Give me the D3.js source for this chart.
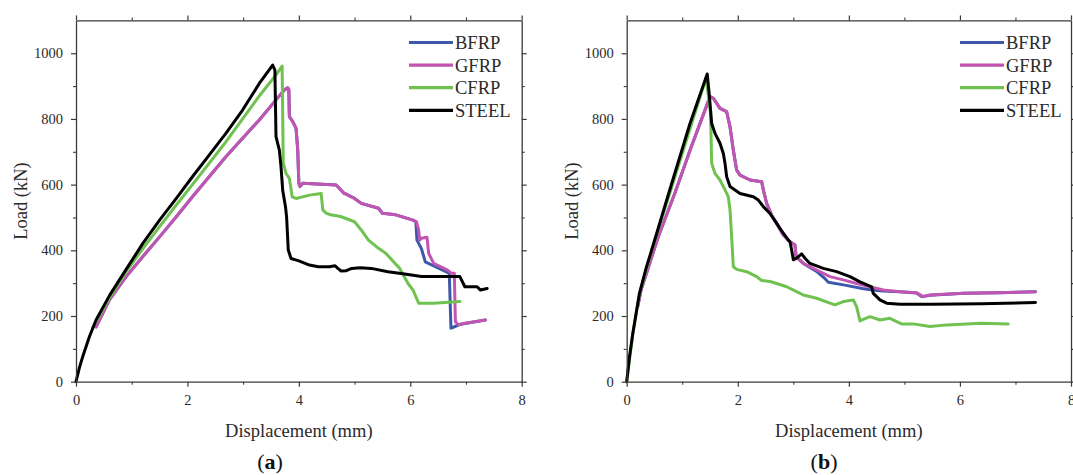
<!DOCTYPE html>
<html>
<head>
<meta charset="utf-8">
<script src="https://cdn.jsdelivr.net/npm/d3@7"></script>
<style>
  html, body { margin: 0; padding: 0; background: #fff; }
  svg { display: block; }
  text { font-family: "Liberation Serif", "Times New Roman", serif; }
</style>
</head>
<body>
<svg id="chart" width="1073" height="475"></svg>
<script>
// ---------- DATA ----------
const seriesNames = ["BFRP", "GFRP", "CFRP", "STEEL"];
const seriesColors = ["#3d57aa", "#c254b2", "#6fc24f", "#000000"];
const xTickValues = [0, 2, 4, 6, 8];
const xMinorTicks = [1, 3, 5, 7];
const yTickValues = [0, 200, 400, 600, 800, 1000];
const yMinorTicks = [100, 300, 500, 700, 900];
const panelCaptions = ["a", "b"];

// Panel (a): [displacement mm, load kN]
const a_GFRP = [[0.36,167],[0.6,249],[0.9,320],[1.2,381],[1.5,441],[1.8,502],[2.09,563],[2.39,624],[2.69,685],[2.99,741],[3.29,797],[3.59,858],[3.74,888],[3.8,895],[3.82,890],[3.83,807],[3.89,792],[3.95,771],[3.98,705],[4.0,604],[4.02,594],[4.07,604],[4.67,599],[4.81,574],[5.0,558],[5.12,543],[5.43,528],[5.5,513],[5.74,508],[6.05,492],[6.11,487],[6.15,462],[6.17,431],[6.2,437],[6.3,440],[6.33,391],[6.42,360],[6.67,340],[6.74,330],[6.79,330],[6.81,183],[6.86,173],[6.98,178],[7.35,188]];
const a_BFRP = [[0.36,167],[0.6,249],[0.9,320],[1.2,381],[1.5,441],[1.8,502],[2.09,563],[2.39,624],[2.69,685],[2.99,741],[3.29,797],[3.59,858],[3.74,888],[3.8,895],[3.82,890],[3.83,807],[3.89,792],[3.95,771],[3.98,705],[4.0,604],[4.02,594],[4.07,604],[4.67,599],[4.81,574],[5.0,558],[5.12,543],[5.43,528],[5.5,513],[5.74,508],[6.05,492],[6.1,487],[6.12,431],[6.2,405],[6.27,365],[6.45,350],[6.64,335],[6.7,330],[6.73,163],[6.76,165],[6.9,175],[7.35,188]];
const a_CFRP = [[0.3,165],[0.6,255],[0.9,335],[1.2,405],[1.5,472],[1.8,538],[2.09,600],[2.39,665],[2.69,730],[2.99,800],[3.29,870],[3.59,934],[3.7,961],[3.72,665],[3.77,634],[3.83,619],[3.88,563],[3.95,558],[4.19,568],[4.4,573],[4.43,523],[4.49,513],[4.57,508],[4.75,503],[5.0,487],[5.12,462],[5.25,431],[5.43,406],[5.56,391],[5.81,345],[5.96,299],[6.05,279],[6.15,239],[6.42,239],[6.89,244]];
const a_STEEL = [[0,0],[0.06,42],[0.12,76],[0.24,137],[0.36,188],[0.6,262],[0.9,342],[1.2,421],[1.5,492],[1.8,558],[2.09,624],[2.39,690],[2.69,756],[2.99,827],[3.29,908],[3.53,964],[3.57,949],[3.59,746],[3.65,705],[3.68,654],[3.71,583],[3.76,533],[3.78,502],[3.81,401],[3.86,375],[4.0,368],[4.19,355],[4.35,350],[4.55,350],[4.65,353],[4.7,345],[4.76,337],[4.85,338],[4.95,345],[5.1,347],[5.3,345],[5.6,335],[5.9,328],[6.2,320],[6.5,320],[6.89,320],[6.98,289],[7.2,289],[7.26,279],[7.38,284]];

// Panel (b)
const b_GFRP = [[0.2,230],[0.26,280],[0.57,442],[0.87,575],[1.14,705],[1.5,868],[1.56,863],[1.68,832],[1.8,822],[1.86,776],[1.92,705],[1.98,644],[2.04,629],[2.22,614],[2.43,609],[2.46,584],[2.52,543],[2.61,507],[2.7,482],[2.82,447],[2.94,426],[3.03,416],[3.05,381],[3.18,360],[3.42,340],[3.66,320],[3.9,310],[4.14,299],[4.38,289],[4.62,279],[4.92,274],[5.22,271],[5.34,259],[5.46,264],[6.07,269],[6.69,271],[7.36,274]];
const b_BFRP = [[0.2,230],[0.26,280],[0.57,442],[0.87,575],[1.14,705],[1.5,868],[1.56,863],[1.68,832],[1.8,822],[1.86,776],[1.92,705],[1.98,644],[2.04,629],[2.22,614],[2.43,609],[2.46,584],[2.52,543],[2.61,507],[2.7,482],[2.82,447],[2.94,426],[3.03,416],[3.05,381],[3.18,360],[3.42,336],[3.58,312],[3.63,303],[3.93,294],[4.24,284],[4.42,279],[4.62,276],[4.92,274],[5.22,270],[5.31,259],[5.46,263],[6.07,269],[6.69,271],[7.36,274]];
const b_CFRP = [[0,0],[0.11,147],[0.23,269],[0.45,400],[0.75,560],[1.14,770],[1.43,925],[1.51,817],[1.53,665],[1.59,634],[1.68,614],[1.77,584],[1.83,563],[1.86,523],[1.89,441],[1.92,350],[1.98,342],[2.16,335],[2.34,320],[2.43,308],[2.58,305],[2.7,299],[2.88,289],[3.06,274],[3.18,264],[3.42,254],[3.66,239],[3.75,234],[3.9,244],[4.08,249],[4.14,228],[4.2,185],[4.26,190],[4.38,198],[4.56,188],[4.74,193],[4.86,183],[4.95,176],[5.16,176],[5.46,168],[5.77,173],[6.38,178],[6.87,176]];
const b_STEEL = [[0,0],[0.05,75],[0.11,147],[0.23,269],[0.34,340],[0.45,401],[0.75,570],[1.14,786],[1.45,937],[1.49,868],[1.53,786],[1.59,756],[1.68,726],[1.74,695],[1.77,665],[1.8,624],[1.86,594],[2.04,573],[2.28,563],[2.37,553],[2.46,533],[2.58,512],[2.7,482],[2.82,452],[2.91,431],[2.94,426],[2.97,401],[3.0,371],[3.06,376],[3.15,389],[3.21,376],[3.3,360],[3.54,345],[3.78,335],[4.02,320],[4.2,304],[4.41,289],[4.44,269],[4.56,249],[4.68,239],[4.92,236],[5.5,236],[6.38,237],[7.36,241]];

const panelSeries = [
  [a_BFRP, a_GFRP, a_CFRP, a_STEEL],
  [b_BFRP, b_GFRP, b_CFRP, b_STEEL]
];

// ---------- LAYOUT ----------
const panels = [
  { x0: 76, x1: 521.7, caption: 270, legendX: 409 },
  { x0: 626.7, x1: 1071, caption: 824, legendX: 960 }
];
const yTop = 20.4, yBottom = 381.7;
const axisColor = "#3a3a3a";
const textColor = "#2a2a2a";

const svg = d3.select("#chart");

panels.forEach((p, pi) => {
  const x = d3.scaleLinear().domain([0, 8]).range([p.x0, p.x1]);
  const y = d3.scaleLinear().domain([0, 1100]).range([yBottom, yTop]);
  const g = svg.append("g");

  // curves
  const line = d3.line().x(d => x(d[0])).y(d => y(d[1])).curve(d3.curveLinear);
  panelSeries[pi].forEach((data, si) => {
    g.append("path")
      .datum(data)
      .attr("fill", "none")
      .attr("stroke", seriesColors[si])
      .attr("stroke-width", 3)
      .attr("stroke-linejoin", "round")
      .attr("stroke-linecap", "round")
      .attr("d", line);
  });

  function styleAxis(sel) {
    sel.select(".domain").attr("stroke", axisColor).attr("stroke-width", 1.3);
    sel.selectAll(".tick line").attr("stroke", axisColor).attr("stroke-width", 1.2);
    sel.selectAll("text")
      .attr("fill", textColor)
      .style("font-family", '"Liberation Serif", "Times New Roman", serif')
      .style("font-size", "14.5px");
  }
  function minor(s) {
    s.select(".domain").remove();
    s.selectAll(".tick line").attr("stroke", axisColor).attr("stroke-width", 1.1);
  }

  // bottom axis
  const bottom = g.append("g").attr("transform", `translate(0,${yBottom})`)
    .call(d3.axisBottom(x).tickValues(xTickValues).tickSize(5).tickSizeOuter(0).tickPadding(8).tickFormat(d3.format("d")));
  styleAxis(bottom);
  g.append("g").attr("transform", `translate(0,${yBottom})`)
    .call(d3.axisBottom(x).tickValues(xMinorTicks).tickSize(3).tickFormat("")).call(minor);

  // top axis
  const top = g.append("g").attr("transform", `translate(0,${yTop})`)
    .call(d3.axisTop(x).tickValues(xTickValues).tickSize(5).tickSizeOuter(0).tickFormat(""));
  styleAxis(top);
  g.append("g").attr("transform", `translate(0,${yTop})`)
    .call(d3.axisTop(x).tickValues(xMinorTicks).tickSize(3).tickFormat("")).call(minor);

  // left axis
  const left = g.append("g").attr("transform", `translate(${p.x0},0)`)
    .call(d3.axisLeft(y).tickValues(yTickValues).tickSize(5).tickSizeOuter(0).tickPadding(8).tickFormat(d3.format("d")));
  styleAxis(left);
  g.append("g").attr("transform", `translate(${p.x0},0)`)
    .call(d3.axisLeft(y).tickValues(yMinorTicks).tickSize(3).tickFormat("")).call(minor);

  // right axis
  const right = g.append("g").attr("transform", `translate(${p.x1},0)`)
    .call(d3.axisRight(y).tickValues(yTickValues).tickSize(5).tickSizeOuter(0).tickFormat(""));
  styleAxis(right);
  g.append("g").attr("transform", `translate(${p.x1},0)`)
    .call(d3.axisRight(y).tickValues(yMinorTicks).tickSize(3).tickFormat("")).call(minor);

  // axis titles
  g.append("text")
    .attr("x", (p.x0 + p.x1) / 2)
    .attr("y", 437)
    .attr("text-anchor", "middle")
    .attr("fill", textColor)
    .style("font-size", "18.5px")
    .text("Displacement (mm)");

  g.append("text")
    .attr("transform", `translate(${p.x0 - 55},${(yTop + yBottom) / 2}) rotate(-90)`)
    .attr("text-anchor", "middle")
    .attr("dy", "0.35em")
    .attr("fill", textColor)
    .style("font-size", "18.5px")
    .text("Load (kN)");

  // caption
  const cap = g.append("text")
    .attr("x", p.caption)
    .attr("y", 469)
    .attr("text-anchor", "middle")
    .attr("fill", "#111")
    .style("font-size", "22px");
  cap.append("tspan").text("(");
  cap.append("tspan").attr("font-weight", "bold").text(panelCaptions[pi]);
  cap.append("tspan").text(")");

  // legend
  const lg = g.append("g");
  seriesNames.forEach((name, si) => {
    const cy = 42.5 + si * 22.6;
    lg.append("line")
      .attr("x1", p.legendX).attr("x2", p.legendX + 44)
      .attr("y1", cy).attr("y2", cy)
      .attr("stroke", seriesColors[si])
      .attr("stroke-width", 3.2);
    lg.append("text")
      .attr("x", p.legendX + 46)
      .attr("y", cy + 6.5)
      .attr("fill", textColor)
      .style("font-size", "18.5px")
      .text(name);
  });
});
</script>
</body>
</html>
